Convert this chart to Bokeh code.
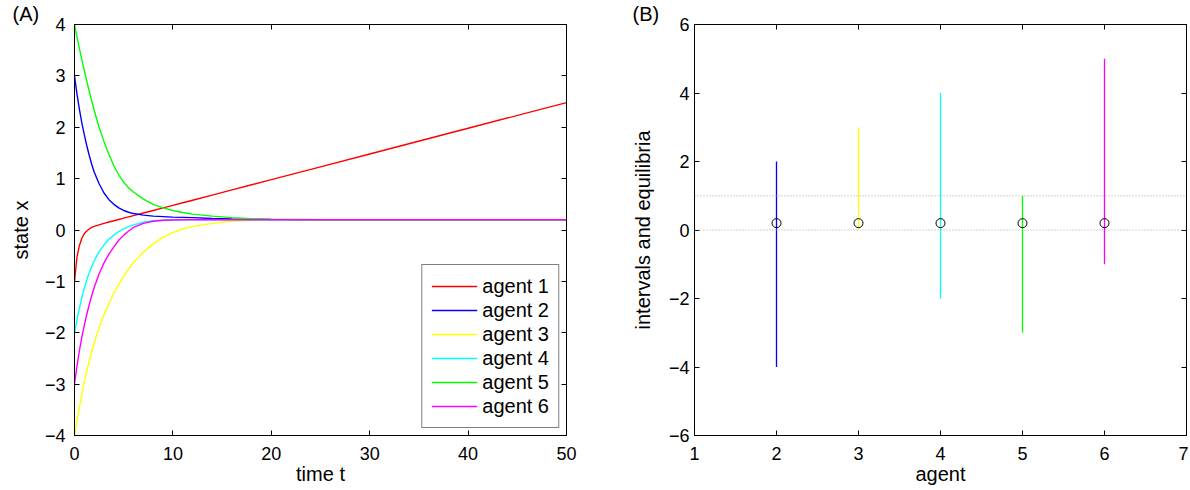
from bokeh.plotting import figure
from bokeh.layouts import row
from bokeh.models import LinearAxis, Legend, LegendItem, Span, FixedTicker, Title
from bokeh.embed import file_html
from bokeh.resources import INLINE

# ---------------- Panel A data: agent states over time ----------------
time_t = [0, 0.25, 0.5, 0.75, 1, 1.25, 1.5, 1.75, 2, 2.5, 3, 3.5, 4, 4.5, 5, 5.5,
          6, 7, 8, 9, 10, 11, 12, 14, 16, 18, 20, 25, 30, 40, 50]
agent1 = [-1.0, -0.53, -0.30, -0.16, -0.07, -0.02, 0.02, 0.05, 0.07, 0.10, 0.13,
          0.155, 0.18, 0.205, 0.23, 0.255, 0.28, 0.33, 0.38, 0.43, 0.48, 0.53,
          0.58, 0.68, 0.78, 0.88, 0.98, 1.23, 1.48, 1.98, 2.48]
agent2 = [3.0, 2.65, 2.35, 2.08, 1.85, 1.64, 1.45, 1.28, 1.13, 0.90, 0.72,
          0.59, 0.50, 0.43, 0.38, 0.345, 0.32, 0.29, 0.27, 0.26, 0.25, 0.245,
          0.24, 0.225, 0.215, 0.21, 0.205, 0.2, 0.2, 0.2, 0.2]
agent3 = [-4.0, -3.72, -3.45, -3.20, -2.95, -2.74, -2.55, -2.37, -2.20, -1.90,
          -1.65, -1.43, -1.23, -1.06, -0.90, -0.76, -0.63, -0.43, -0.27, -0.14,
          -0.05, 0.02, 0.07, 0.13, 0.17, 0.19, 0.2, 0.2, 0.2, 0.2, 0.2]
agent4 = [-2.0, -1.75, -1.52, -1.31, -1.13, -0.97, -0.83, -0.71, -0.60, -0.42,
          -0.29, -0.18, -0.10, -0.03, 0.02, 0.065, 0.10, 0.15, 0.18, 0.19,
          0.195, 0.2, 0.2, 0.2, 0.2, 0.2, 0.2, 0.2, 0.2, 0.2, 0.2]
agent5 = [4.0, 3.76, 3.53, 3.31, 3.10, 2.89, 2.70, 2.51, 2.33, 2.00, 1.72,
          1.47, 1.25, 1.07, 0.93, 0.82, 0.74, 0.60, 0.50, 0.43, 0.38, 0.34,
          0.31, 0.27, 0.24, 0.22, 0.21, 0.2, 0.2, 0.2, 0.2]
agent6 = [-3.0, -2.65, -2.35, -2.08, -1.85, -1.64, -1.45, -1.28, -1.12, -0.85,
          -0.64, -0.47, -0.33, -0.20, -0.10, -0.02, 0.05, 0.13, 0.17, 0.19,
          0.195, 0.2, 0.2, 0.2, 0.2, 0.2, 0.2, 0.2, 0.2, 0.2, 0.2]
series_a = [agent1, agent2, agent3, agent4, agent5, agent6]
labels_a = ["agent 1", "agent 2", "agent 3", "agent 4", "agent 5", "agent 6"]
colors = ["#ff0000", "#0000ff", "#ffff00", "#00ffff", "#00ff00", "#ff00ff"]

x_ticks_a = [0, 10, 20, 30, 40, 50]
y_ticks_a = [-4, -3, -2, -1, 0, 1, 2, 3, 4]

# ---------------- Panel B data: intervals and equilibria ----------------
agents_b = [2, 3, 4, 5, 6]
lower_b = [-4, 0, -2, -3, -1]
upper_b = [2, 3, 4, 1, 5]
equil_b = [0.2, 0.2, 0.2, 0.2, 0.2]
colors_b = ["#0000ff", "#ffff00", "#00ffff", "#00ff00", "#ff00ff"]
ref_levels = [0, 1]

x_ticks_b = [1, 2, 3, 4, 5, 6, 7]
y_ticks_b = [-6, -4, -2, 0, 2, 4, 6]

FONT = "Liberation Sans"
TICK_SIZE = "18px"
LABEL_SIZE = "20px"
H = 490


def fmt(v):
    return str(v).replace("-", "\u2212")


def style_axis(ax, ticks, show_labels=True, standoff=8):
    ax.ticker = FixedTicker(ticks=ticks)
    ax.major_tick_in = 5
    ax.major_tick_out = 0
    ax.minor_tick_line_color = None
    ax.axis_line_color = "black"
    ax.axis_line_width = 1
    ax.major_tick_line_color = "black"
    ax.major_label_text_font = FONT
    ax.axis_label_text_font = FONT
    ax.axis_label_text_font_size = LABEL_SIZE
    ax.axis_label_text_font_style = "normal"
    ax.axis_label_text_color = "black"
    if show_labels:
        ax.major_label_text_color = "black"
        ax.major_label_text_font_size = TICK_SIZE
        ax.major_label_standoff = standoff
        ax.major_label_overrides = {t: fmt(t) for t in ticks}
    else:
        ax.major_label_text_color = None
        ax.major_label_text_font_size = "1px"
        ax.major_label_standoff = 0


def base_fig(width, xr, yr, bl, br, tag):
    p = figure(width=width, height=H, x_range=xr, y_range=yr,
               output_backend="svg", toolbar_location=None,
               min_border_left=bl, min_border_right=br,
               min_border_top=24, min_border_bottom=H - 435)
    p.title = Title(text=tag, align="left", offset=-62, standoff=0,
                    vertical_align="bottom", text_font=FONT,
                    text_font_size=LABEL_SIZE, text_font_style="normal",
                    text_color="black")
    p.xgrid.visible = False
    p.ygrid.visible = False
    p.outline_line_color = "black"
    p.background_fill_color = "white"
    p.border_fill_color = "white"
    return p


# ---------------- Panel A ----------------
p1 = base_fig(608, (0, 50), (-4, 4), 74, 42, "(A)")
renderers = []
for ys, c in zip(series_a, colors):
    r = p1.line(time_t, ys, line_color=c, line_width=1.4)
    renderers.append(r)

style_axis(p1.xaxis[0], x_ticks_a, True, 11)
style_axis(p1.yaxis[0], y_ticks_a, True, 9)
p1.xaxis[0].axis_label = "time t"
p1.xaxis[0].axis_label_standoff = 0
p1.yaxis[0].axis_label = "state x"
p1.yaxis[0].axis_label_standoff = 10
top1 = LinearAxis()
style_axis(top1, x_ticks_a, False)
p1.add_layout(top1, "above")
right1 = LinearAxis()
style_axis(right1, y_ticks_a, False)
p1.add_layout(right1, "right")

legend = Legend(items=[LegendItem(label=l, renderers=[r]) for l, r in zip(labels_a, renderers)],
                location="bottom_right")
legend.margin = 7
legend.padding = 9
legend.spacing = 0
legend.label_height = 24
legend.glyph_height = 24
legend.glyph_width = 46
legend.label_standoff = 5
legend.label_text_font = FONT
legend.label_text_font_size = LABEL_SIZE
legend.label_text_color = "black"
legend.border_line_color = "black"
legend.border_line_width = 1
legend.background_fill_alpha = 1
p1.add_layout(legend)

# ---------------- Panel B ----------------
p2 = base_fig(580, (1, 7), (-6, 6), 86, 2, "(B)")
for lv in ref_levels:
    p2.add_layout(Span(location=lv, dimension="width", line_color="#a8a8a8",
                       line_width=1, line_dash="1 2"))
p2.segment(x0=agents_b, y0=lower_b, x1=agents_b, y1=upper_b,
           line_color=colors_b, line_width=1.3)
p2.scatter(agents_b, equil_b, marker="circle", size=9, fill_color=None,
           line_color="black", line_width=1)

style_axis(p2.xaxis[0], x_ticks_b, True, 11)
style_axis(p2.yaxis[0], y_ticks_b, True, 5)
p2.xaxis[0].axis_label = "agent"
p2.xaxis[0].axis_label_standoff = 0
p2.yaxis[0].axis_label = "intervals and equilibria"
p2.yaxis[0].axis_label_standoff = 12
top2 = LinearAxis()
style_axis(top2, x_ticks_b, False)
p2.add_layout(top2, "above")
right2 = LinearAxis()
style_axis(right2, y_ticks_b, False)
p2.add_layout(right2, "right")

layout = row(p1, p2)
open("out.html", "w").write(file_html(layout, INLINE))
